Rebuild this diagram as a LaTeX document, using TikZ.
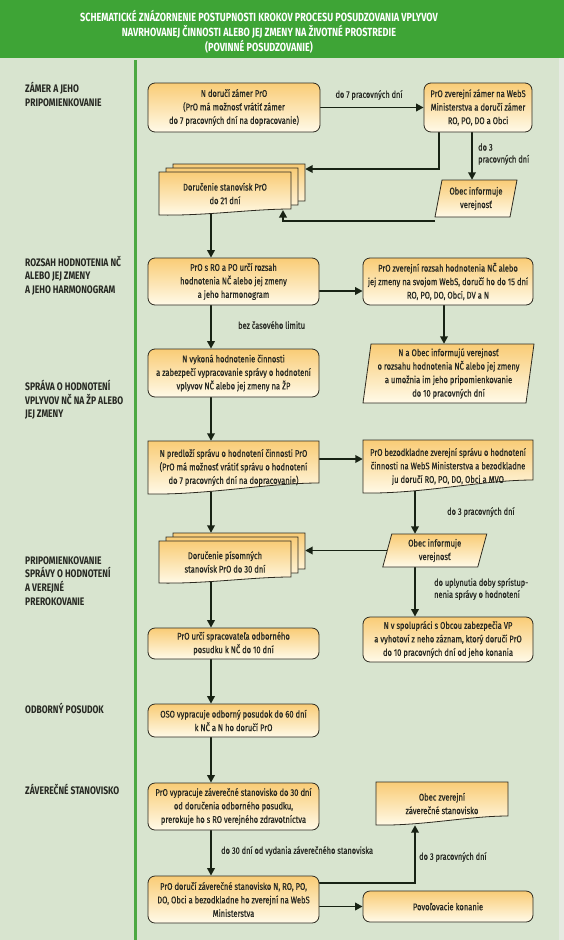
\documentclass[tikz,border=0pt]{standalone}
\usepackage{fontspec}
\setmainfont{Fira Sans}
\newfontfamily\cond{Fira Sans}[FakeStretch=0.78]
\newfontfamily\condm{Fira Sans}[FakeStretch=0.78,FakeBold=0.6]
\newfontfamily\condh{Fira Sans}[FakeStretch=0.77]
\usetikzlibrary{arrows.meta}
\definecolor{bgc}{RGB}{216,228,207}
\definecolor{hdr}{RGB}{62,164,54}
\definecolor{vline}{RGB}{76,168,66}
\definecolor{lbl}{RGB}{38,40,34}
\definecolor{arrc}{RGB}{24,34,20}
\definecolor{bord}{RGB}{45,42,32}
\definecolor{btop}{RGB}{249,204,118}
\definecolor{bbot}{RGB}{255,250,232}
\definecolor{edgec}{RGB}{230,234,226}
\newcommand\boxf{\condm\fontsize{9.7}{13.5}\selectfont}
\newcommand\edgef{\condm\fontsize{9.5}{12}\selectfont}
\newcommand\sectf{\cond\bfseries\fontsize{10.9}{13.6}\selectfont}
\newcommand\hdrf{\condh\bfseries\fontsize{11.8}{15}\selectfont}
\pgfdeclarelayer{bg}
\pgfdeclarelayer{conn}
\pgfsetlayers{bg,conn,main}
\tikzset{
  box/.style={draw=bord, line width=0.8pt, rounded corners=7pt, top color=btop, bottom color=bbot, align=center, inner sep=0pt, font=\boxf, text=lbl},
  txt/.style={align=center, inner sep=0pt, font=\boxf, text=lbl},
  shp/.style={draw=bord, line width=0.8pt, top color=btop, bottom color=bbot},
  arr/.style={draw=arrc, line width=1.8pt, -{Triangle[length=7.5pt,width=7.5pt]}},
  elbl/.style={font=\edgef, text=lbl, inner sep=0pt, align=left, anchor=west},
  sect/.style={font=\sectf, text=lbl, align=left, anchor=west, inner sep=0pt},
}
% document shape: x0 y0 x1 y1 d
\newcommand\docshape[5]{%
  \path[shp] ({#1},{#2}) -- ({#3},{#2}) -- ({#3},{(#4)-(#5)})
    .. controls ({(#3)-0.3*((#3)-(#1))},{(#4)-(#5)}) and ({(#1)+0.35*((#3)-(#1))},{(#4)+1}) .. ({#1},{#4}) -- cycle;}
% document node: name x0 y0 x1 y1 d text
\newcommand\docnode[7]{%
  \docshape{#2}{#3}{#4}{#5}{#6}
  \node[txt, minimum width={((#4)-(#2))*1pt}, minimum height={((#5)-(#3))*1pt}] (#1) at ({((#2)+(#4))/2},{((#3)+(#5))/2}) {#7};}
% stack of documents: name x0 y0 x1 y1 d text
\newcommand\docstack[7]{%
  \docshape{(#2)+14}{(#3)-8}{(#4)+14}{(#5)-8}{#6}
  \node[inner sep=0pt, minimum width={((#4)-(#2))*1pt}, minimum height={((#5)-(#3))*1pt}] (#1b) at ({((#2)+(#4))/2+14},{((#3)+(#5))/2-8}) {};
  \docshape{(#2)+7}{(#3)-4}{(#4)+7}{(#5)-4}{#6}
  \docnode{#1}{#2}{#3}{#4}{#5}{#6}{#7}}
% parallelogram: name cx cy w h s text
\newcommand\para[7]{%
  \path[shp] ({(#2)-(#4)/2+(#6)/2},{(#3)-(#5)/2}) -- ({(#2)+(#4)/2+(#6)/2},{(#3)-(#5)/2})
    -- ({(#2)+(#4)/2-(#6)/2},{(#3)+(#5)/2}) -- ({(#2)-(#4)/2-(#6)/2},{(#3)+(#5)/2}) -- cycle;
  \coordinate (#1-bl) at ({(#2)-(#4)/2-(#6)/2},{(#3)+(#5)/2});
  \node[txt, minimum width={(#4)*1pt}, minimum height={(#5)*1pt}] (#1) at ({#2},{#3}) {#7};}
\begin{document}
\begin{tikzpicture}[x=1pt,y=-1pt]
\useasboundingbox (0,0) rectangle (564,940);
\begin{pgfonlayer}{bg}
  \fill[bgc] (0,0) rectangle (564,940);
  \fill[edgec] (559,58) rectangle (564,940);
  \fill[hdr] (0,0) rectangle (564,58);
  \draw[vline, line width=3.5pt] (135.5,60) -- (135.5,940);
\end{pgfonlayer}
% header
\node[font=\hdrf, text=white, align=center, inner sep=0pt] (title) at (259,32)
  {SCHEMATICKÉ ZNÁZORNENIE POSTUPNOSTI KROKOV PROCESU POSUDZOVANIA VPLYVOV\\
   NAVRHOVANEJ ČINNOSTI ALEBO JEJ ZMENY NA ŽIVOTNÉ PROSTREDIE\\
   (POVINNÉ POSUDZOVANIE)};
% section labels
\node[sect] (s1) at (25,94.5) {ZÁMER A JEHO\\PRIPOMIENKOVANIE};
\node[sect] (s2) at (25,275.5) {ROZSAH HODNOTENIA NČ\\ALEBO JEJ ZMENY\\A JEHO HARMONOGRAM};
\node[sect] (s3) at (25,400) {SPRÁVA O HODNOTENÍ\\VPLYVOV NČ NA ŽP ALEBO\\JEJ ZMENY};
\node[sect] (s4) at (25,581) {PRIPOMIENKOVANIE\\SPRÁVY O HODNOTENÍ\\A VEREJNÉ\\PREROKOVANIE};
\node[sect] (s5) at (25,708) {ODBORNÝ POSUDOK};
\node[sect] (s6) at (25,789) {ZÁVEREČNÉ STANOVISKO};
% boxes
\node[box, minimum width=172pt, minimum height=49pt] (A) at (234,107.5)
  {N doručí zámer PrO\\(PrO má možnosť vrátiť zámer\\do 7 pracovných dní na dopracovanie)};
\node[box, minimum width=108pt, minimum height=49pt] (B) at (478,107.5)
  {PrO zverejní zámer na WebS\\Ministerstva a doručí zámer\\RO, PO, DO a Obci};
\docstack{C}{159}{172}{291}{215}{6}{Doručenie stanovísk PrO\\do 21 dní}
\para{D}{476}{198.5}{75}{37}{7}{Obec informuje\\verejnosť}
\node[box, minimum width=171pt, minimum height=47pt] (E) at (233.5,281.5)
  {PrO s RO a PO určí rozsah\\hodnotenia NČ alebo jej zmeny\\a jeho harmonogram};
\node[box, minimum width=170pt, minimum height=47pt] (F) at (448,281.5)
  {PrO zverejní rozsah hodnotenia NČ alebo\\jej zmeny na svojom WebS, doručí ho do 15 dní\\RO, PO, DO, Obci, DV a N};
\para{G}{448.5}{373.5}{163}{59}{8}{N a Obec informujú verejnosť\\o rozsahu hodnotenia NČ alebo jej zmeny\\a umožnia im jeho pripomienkovanie\\do 10 pracovných dní}
\node[box, minimum width=171pt, minimum height=48pt] (H) at (233.5,373)
  {N vykoná hodnotenie činnosti\\a zabezpečí vypracovanie správy o hodnotení\\vplyvov NČ alebo jej zmeny na ŽP};
\docnode{I}{148}{441}{319}{494}{11}{N predloží správu o hodnotení činnosti PrO\\(PrO má možnosť vrátiť správu o hodnotení\\do 7 pracovných dní na dopracovanie)}
\docnode{J}{363}{440}{533}{493}{13}{PrO bezodkladne zverejní správu o hodnotení\\činnosti na WebS Ministerstva a bezodkladne\\ju doručí RO, PO, DO, Obci a MVO}
\para{K}{434.75}{550.5}{95}{33}{9}{Obec informuje\\verejnosť}
\docstack{L}{159}{541}{291}{583}{6}{Doručenie písomných\\stanovísk PrO do 30 dní}
\node[box, minimum width=170pt, minimum height=45pt] (M) at (448,639.5)
  {N v spolupráci s Obcou zabezpečia VP\\a vyhotoví z neho záznam, ktorý doručí PrO\\do 10 pracovných dní od jeho konania};
\node[box, minimum width=171pt, minimum height=31pt] (N) at (233.5,643.5)
  {PrO určí spracovateľa odborného\\posudku k NČ do 10 dní};
\node[box, minimum width=171pt, minimum height=33pt] (O) at (233.5,720.5)
  {OSO vypracuje odborný posudok do 60 dní\\k NČ a N ho doručí PrO};
\node[box, minimum width=171pt, minimum height=47pt] (P) at (233.5,806.5)
  {PrO vypracuje záverečné stanovisko do 30 dní\\od doručenia odborného posudku,\\prerokuje ho s RO verejného zdravotníctva};
\node[box, minimum width=171pt, minimum height=47pt] (Q) at (233.5,899.5)
  {PrO doručí záverečné stanovisko N, RO, PO,\\DO, Obci a bezodkladne ho zverejní na WebS\\Ministerstva};
\docnode{R}{376}{782}{508}{825}{9}{Obec zverejní\\záverečné stanovisko}
\node[box, minimum width=170pt, minimum height=31pt] (S) at (448,906.5) {Povoľovacie konanie};
% helper coordinates
\coordinate (cL) at (211,0);
\coordinate (cB) at (439,0);
\coordinate (yBC) at (0,169);
\coordinate (cD) at (472,0);
\coordinate (cDC) at (283,210);
\coordinate (yEF) at (0,291);
\coordinate (cFG) at (444,0);
\coordinate (yIJ) at (0,459);
\coordinate (cR) at (415,0);
\coordinate (yQR) at (0,883);
% connectors
\begin{pgfonlayer}{conn}
  \draw[arr] (A) -- (B);
  \draw[arr] (B.south -| cB) |- (Cb.east |- yBC);
  \draw[arr] (B.south -| cD) -- (D.north -| cD);
  \draw[arr] ([yshift=-4pt]D-bl) -| (cDC);
  \draw[arr] (C.center -| cL) -- (E.north -| cL);
  \draw[arr] (E.east |- yEF) -- (F.west |- yEF);
  \draw[arr] (F.south -| cFG) -- (G.north -| cFG);
  \draw[arr] (E.south -| cL) -- (H.north -| cL);
  \draw[arr] (H.south -| cL) -- (I.north -| cL);
  \draw[arr] (I.east |- yIJ) -- (J.west |- yIJ);
  \draw[arr] (I.center -| cL) -- (Lb.north -| cL);
  \draw[arr] (J.center -| cR) -- (K.north -| cR);
  \draw[arr] (K.west) -- (Lb.east |- K.west);
  \draw[arr] (K.south -| cR) -- (M.north -| cR);
  \draw[arr] (L.center -| cL) -- (N.north -| cL);
  \draw[arr] (N.south -| cL) -- (O.north -| cL);
  \draw[arr] (O.south -| cL) -- (P.north -| cL);
  \draw[arr] (P.south -| cL) -- (Q.north -| cL);
  \draw[arr] (Q.east |- yQR) -| (R.south -| cR);
  \draw[arr] (Q.east |- S.west) -- (S.west);
\end{pgfonlayer}
% connector labels
\node[elbl, anchor=center] (l1) at (369,95) {do 7 pracovných dní};
\node[elbl] (l2) at (478,154) {do 3\\pracovných dní};
\node[elbl] (l3) at (238,325) {bez časového limitu};
\node[elbl] (l4) at (447,512) {do 3 pracovných dní};
\node[elbl] (l5) at (434,589) {do uplynutia doby sprístup-\\nenia správy o hodnotení};
\node[elbl] (l6) at (221,851) {do 30 dní od vydania záverečného stanoviska};
\node[elbl] (l7) at (419,857) {do 3 pracovných dní};
\end{tikzpicture}
\end{document}
